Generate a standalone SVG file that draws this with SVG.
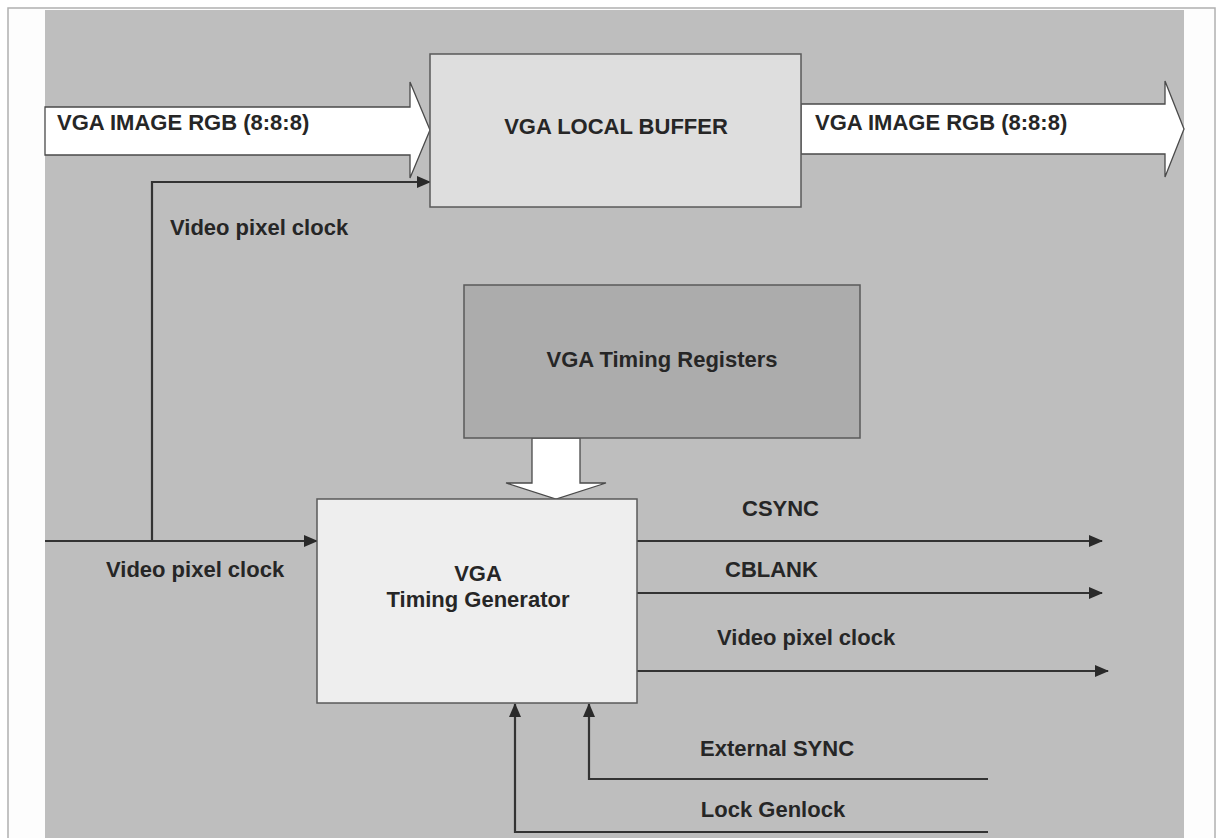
<svg xmlns="http://www.w3.org/2000/svg" width="1218" height="838" viewBox="0 0 1218 838">
<style>
.t{font-family:"Liberation Sans",Arial,sans-serif;font-weight:bold;font-size:22px;fill:#262626}
.box{stroke:#5a5a5a;stroke-width:1.5}
.ln{stroke:#333;stroke-width:2.2;fill:none}
.big{fill:#ffffff;stroke:#4a4a4a;stroke-width:1.3}
</style>
<defs>
<marker id="ah" markerWidth="14" markerHeight="12" refX="13" refY="6" orient="auto" markerUnits="userSpaceOnUse">
<path d="M0,0 L14,6 L0,12 z" fill="#2a2a2a"/>
</marker>
</defs>
<rect x="0" y="0" width="1218" height="838" fill="#ffffff"/>
<rect x="8" y="8" width="1207" height="840" fill="#fdfdfd" stroke="#b0b0b0" stroke-width="1.5"/>
<rect x="45" y="10" width="1139" height="828" fill="#bebebe"/>

<g id="connectors">
<path class="big" d="M45,107 L410,107 L410,82 L430,130 L410,178 L410,155 L45,155 z"/>
<path class="big" d="M801,104 L1165,104 L1165,81 L1184,129 L1165,177 L1165,154 L801,154 z"/>
<path class="big" d="M532,438 L580,438 L580,483 L606,483 L556,499 L506,483 L532,483 z"/>
<path class="ln" d="M152,541 L152,182 L430,182" marker-end="url(#ah)"/>
<path class="ln" d="M45,541 L317,541" marker-end="url(#ah)"/>
<path class="ln" d="M637,541 L1102,541" marker-end="url(#ah)"/>
<path class="ln" d="M637,593 L1102,593" marker-end="url(#ah)"/>
<path class="ln" d="M637,671 L1108,671" marker-end="url(#ah)"/>
<path class="ln" d="M988,779 L589,779 L589,704" marker-end="url(#ah)"/>
<path class="ln" d="M988,832 L515,832 L515,704" marker-end="url(#ah)"/>
</g>

<g id="label-rgb-in"><text class="t" x="57" y="130">VGA IMAGE RGB (8:8:8)</text></g>
<g id="label-rgb-out"><text class="t" x="815" y="130">VGA IMAGE RGB (8:8:8)</text></g>

<g id="local-buffer">
<rect class="box" x="430" y="54" width="371" height="153" fill="#dedede"/>
<text class="t" x="616" y="134" text-anchor="middle">VGA LOCAL BUFFER</text>
</g>

<g id="timing-registers">
<rect class="box" x="464" y="285" width="396" height="153" fill="#acacac"/>
<text class="t" x="662" y="367" text-anchor="middle">VGA Timing Registers</text>
</g>

<g id="timing-generator">
<rect class="box" x="317" y="499" width="320" height="204" fill="#eeeeee"/>
<text class="t" x="478" y="581" text-anchor="middle">VGA</text>
<text class="t" x="478" y="607" text-anchor="middle">Timing Generator</text>
</g>

<g id="labels">
<text class="t" x="170" y="235">Video pixel clock</text>
<text class="t" x="106" y="577">Video pixel clock</text>
<text class="t" x="742" y="516">CSYNC</text>
<text class="t" x="725" y="577">CBLANK</text>
<text class="t" x="717" y="645">Video pixel clock</text>
<text class="t" x="777" y="756" text-anchor="middle">External SYNC</text>
<text class="t" x="773" y="817" text-anchor="middle">Lock Genlock</text>
</g>
</svg>
